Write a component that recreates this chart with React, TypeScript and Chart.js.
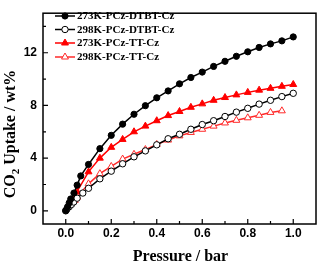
import React, { useEffect, useRef } from "react";
import { Chart, registerables } from "chart.js";

Chart.register(...registerables);

const seriesNames = ["273K-PCz-DTBT-Cz", "298K-PCz-DTBT-Cz", "273K-PCz-TT-Cz", "298K-PCz-TT-Cz"];

const dtbt273P = [0, 0.008, 0.015, 0.022, 0.036, 0.05, 0.066, 0.1, 0.15, 0.2, 0.25, 0.3, 0.35, 0.4, 0.45, 0.5, 0.55, 0.6, 0.65, 0.7, 0.75, 0.8, 0.85, 0.9, 0.95, 1.0];
const dtbt273U = [0.02, 0.3, 0.6, 0.9, 1.35, 1.95, 2.65, 3.52, 4.72, 5.73, 6.58, 7.33, 7.98, 8.58, 9.1, 9.64, 10.12, 10.53, 10.96, 11.35, 11.73, 12.07, 12.4, 12.67, 12.9, 13.2];

const dtbt298P = [0, 0.005, 0.015, 0.025, 0.035, 0.05, 0.075, 0.1, 0.15, 0.2, 0.25, 0.3, 0.35, 0.4, 0.45, 0.5, 0.55, 0.6, 0.65, 0.7, 0.75, 0.8, 0.85, 0.9, 0.95, 1.0];
const dtbt298U = [0, 0.12, 0.31, 0.48, 0.67, 0.96, 1.35, 1.71, 2.43, 3.01, 3.57, 4.1, 4.55, 5.01, 5.47, 5.81, 6.19, 6.55, 6.84, 7.16, 7.49, 7.78, 8.1, 8.39, 8.67, 8.92];

const tt273P = [0.04, 0.05, 0.1, 0.15, 0.2, 0.25, 0.3, 0.35, 0.4, 0.45, 0.5, 0.55, 0.6, 0.65, 0.7, 0.75, 0.8, 0.85, 0.9, 0.95, 1.0];
const tt273U = [1.15, 1.47, 2.96, 4.0, 4.82, 5.42, 6.0, 6.43, 6.84, 7.23, 7.54, 7.86, 8.12, 8.39, 8.6, 8.8, 8.99, 9.16, 9.3, 9.45, 9.59];

const tt298P = [0.04, 0.05, 0.1, 0.15, 0.2, 0.25, 0.3, 0.35, 0.4, 0.45, 0.5, 0.55, 0.6, 0.65, 0.7, 0.75, 0.8, 0.85, 0.9, 0.95];
const tt298U = [0.8, 1.04, 2.05, 2.82, 3.37, 3.93, 4.29, 4.65, 5.04, 5.37, 5.69, 5.95, 6.19, 6.43, 6.67, 6.87, 7.06, 7.25, 7.47, 7.59];

const xMajorTicks = [0, 0.2, 0.4, 0.6, 0.8, 1.0];
const xMinorTicks = [0.1, 0.3, 0.5, 0.7, 0.9];
const yMajorTicks = [0, 4, 8, 12];
const yMinorTicks = [2, 6, 10, 14];

const xTitle = "Pressure / bar";
const yTitleParts = ["CO", "2", " Uptake / wt%"];

const toXY = (p: number[], u: number[]) => p.map((x, i) => ({ x, y: u[i] }));

const styles = [
  { color: "#000000", fill: "#000000", style: "circle", radius: 3.1 },
  { color: "#000000", fill: "#ffffff", style: "circle", radius: 3.2 },
  { color: "#ff0000", fill: "#ff0000", style: "triangle", radius: 4 },
  { color: "#ff2a2a", fill: "#ffffff", style: "triangle", radius: 4 },
];

function drawMarker(ctx: CanvasRenderingContext2D, x: number, y: number, s: any) {
  ctx.save();
  ctx.beginPath();
  if (s.style === "circle") {
    ctx.arc(x, y, s.radius, 0, Math.PI * 2);
  } else {
    const r = s.radius;
    ctx.moveTo(x, y - r);
    ctx.lineTo(x + r * 0.866, y + r * 0.5);
    ctx.lineTo(x - r * 0.866, y + r * 0.5);
    ctx.closePath();
  }
  ctx.fillStyle = s.fill;
  ctx.fill();
  ctx.lineWidth = 1;
  ctx.strokeStyle = s.color;
  ctx.stroke();
  ctx.restore();
}

const framePlugin = {
  id: "frame",
  afterDraw(chart: any) {
    const ctx: CanvasRenderingContext2D = chart.ctx;
    const { left, right, top, bottom } = chart.chartArea;
    const xs = chart.scales.x;
    const ys = chart.scales.y;
    ctx.save();
    ctx.strokeStyle = "#000";
    ctx.lineWidth = 1.5;
    ctx.strokeRect(left, top, right - left, bottom - top);
    ctx.lineWidth = 1.2;
    ctx.beginPath();
    xMajorTicks.forEach((v) => {
      const px = xs.getPixelForValue(v);
      ctx.moveTo(px, bottom);
      ctx.lineTo(px, bottom - 5);
    });
    xMinorTicks.forEach((v) => {
      const px = xs.getPixelForValue(v);
      ctx.moveTo(px, bottom);
      ctx.lineTo(px, bottom - 3);
    });
    yMajorTicks.forEach((v) => {
      const py = ys.getPixelForValue(v);
      ctx.moveTo(left, py);
      ctx.lineTo(left + 5, py);
    });
    yMinorTicks.forEach((v) => {
      const py = ys.getPixelForValue(v);
      ctx.moveTo(left, py);
      ctx.lineTo(left + 3, py);
    });
    ctx.stroke();

    // legend
    const rows = [16, 29.5, 43, 57];
    ctx.font = "bold 11px 'Liberation Serif'";
    ctx.textBaseline = "middle";
    ctx.textAlign = "left";
    seriesNames.forEach((name, i) => {
      const s = styles[i];
      const y = rows[i];
      ctx.strokeStyle = s.color;
      ctx.lineWidth = 1.5;
      ctx.beginPath();
      ctx.moveTo(55, y);
      ctx.lineTo(75, y);
      ctx.stroke();
      drawMarker(ctx, 65, y, s);
      ctx.fillStyle = "#000";
      ctx.fillText(name, 77, y + 0.5);
    });

    // x title
    ctx.font = "bold 16px 'Liberation Serif'";
    ctx.textAlign = "center";
    ctx.textBaseline = "middle";
    ctx.fillStyle = "#000";
    ctx.fillText(xTitle, (left + right) / 2 + 1, 257);

    // y title with subscript
    ctx.translate(11, 134);
    ctx.rotate(-Math.PI / 2);
    const big = "bold 16px 'Liberation Serif'";
    const small = "bold 11px 'Liberation Serif'";
    ctx.font = big;
    const w0 = ctx.measureText(yTitleParts[0]).width;
    const w2 = ctx.measureText(yTitleParts[2]).width;
    ctx.font = small;
    const w1 = ctx.measureText(yTitleParts[1]).width;
    const total = w0 + w1 + w2;
    const x0 = -total / 2;
    ctx.textAlign = "left";
    ctx.font = big;
    ctx.fillText(yTitleParts[0], x0, 0);
    ctx.font = small;
    ctx.fillText(yTitleParts[1], x0 + w0, 5);
    ctx.font = big;
    ctx.fillText(yTitleParts[2], x0 + w0 + w1, 0);
    ctx.restore();
  },
};

export default function App() {
  const ref = useRef<HTMLCanvasElement>(null);
  useEffect(() => {
    document.body.style.margin = "0";
    const canvas = ref.current!;
    const datasets = [
      [dtbt273P, dtbt273U],
      [dtbt298P, dtbt298U],
      [tt273P, tt273U],
      [tt298P, tt298U],
    ].map(([p, u], i) => ({
      label: seriesNames[i],
      data: toXY(p, u),
      borderColor: styles[i].color,
      backgroundColor: styles[i].fill,
      pointBackgroundColor: styles[i].fill,
      pointBorderColor: styles[i].color,
      pointBorderWidth: 1,
      pointStyle: styles[i].style,
      pointRadius: styles[i].radius,
      borderWidth: 1.5,
      fill: false,
      tension: 0,
    }));
    const chart = new Chart(canvas, {
      type: "line",
      data: { datasets },
      options: {
        animation: false,
        responsive: false,
        devicePixelRatio: 1,
        layout: { padding: { left: 0, right: 4, top: 3, bottom: 0 } },
        plugins: { legend: { display: false }, tooltip: { enabled: false } },
        scales: {
          x: {
            type: "linear",
            min: -0.1,
            max: 1.1,
            grid: { display: false, drawTicks: false },
            border: { display: false },
            afterFit: (s: any) => { s.height = 45; },
            afterBuildTicks: (s: any) => { s.ticks = xMajorTicks.map((v) => ({ value: v })); },
            ticks: {
              padding: 2,
              color: "#000",
              maxRotation: 0,
              autoSkip: false,
              font: { family: "'Liberation Sans'", size: 12, weight: "bold" },
              callback: (v: any) => Number(v).toFixed(1),
            },
          },
          y: {
            type: "linear",
            min: -1,
            max: 15,
            grid: { display: false, drawTicks: false },
            border: { display: false },
            afterFit: (s: any) => { s.width = 43; },
            afterBuildTicks: (s: any) => { s.ticks = yMajorTicks.map((v) => ({ value: v })); },
            ticks: {
              padding: 6,
              color: "#000",
              autoSkip: false,
              font: { family: "'Liberation Sans'", size: 12, weight: "bold" },
              callback: (v: any) => String(Math.round(Number(v))),
            },
          },
        },
      },
      plugins: [framePlugin],
    });
    return () => chart.destroy();
  }, []);
  return <canvas ref={ref} width={321} height={269} style={{ display: "block" }} />;
}
